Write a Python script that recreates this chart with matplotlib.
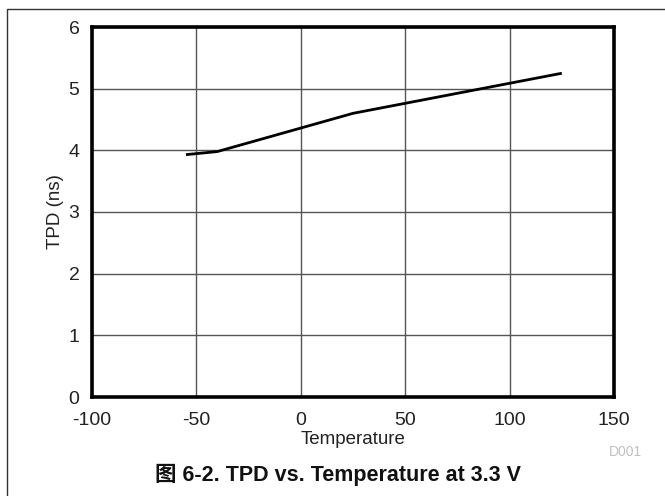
import matplotlib
matplotlib.use("Agg")
import matplotlib.pyplot as plt
from matplotlib.patches import Rectangle

# Daten
temperature = [-55, -40, 25, 125]
tpd_ns = [3.93, 3.98, 4.60, 5.25]

x_ticks = [-100, -50, 0, 50, 100, 150]
y_ticks = [0, 1, 2, 3, 4, 5, 6]

plt.rcParams['font.family'] = ['Liberation Sans', 'Noto Sans CJK SC', 'DejaVu Sans']
plt.rcParams['axes.unicode_minus'] = False

W, H = 665, 496
fig = plt.figure(figsize=(W / 100, H / 100), dpi=100)

# Achsenbereich in Pixel: links 92, rechts 614, oben 27, unten 397
ax = fig.add_axes([92 / W, 1 - 397 / H, (614 - 92) / W, (397 - 27) / H])

ax.plot(temperature, tpd_ns, color='black', linewidth=2.0, solid_capstyle='butt')

ax.set_xlim(-100, 150)
ax.set_ylim(0, 6)
ax.set_xticks(x_ticks)
ax.set_yticks(y_ticks)
ax.grid(True, color='#555555', linewidth=1.0)
ax.set_axisbelow(True)
ax.tick_params(axis='x', length=0, labelsize=14, labelcolor='#222222', pad=11)
ax.tick_params(axis='y', length=0, labelsize=14, labelcolor='#222222', pad=9)
for s in ax.spines.values():
    s.set_linewidth(2.6)
    s.set_color('black')

ax.set_xlabel("Temperature", fontsize=13.5, color='#222222', labelpad=1)
ax.set_ylabel("TPD (ns)", fontsize=13.5, color='#222222', labelpad=3)

# Rahmen um die ganze Abbildung
fig.patches.append(Rectangle((7 / W, -0.1), 1.2, 1 - 9 / H + 0.1, transform=fig.transFigure,
                             fill=False, edgecolor='#333333', linewidth=1.0))

fig.text(625 / W, 1 - 452 / H, "D001", fontsize=10, color='#c0c0c0', ha='center', va='center')
fig.text(338 / W, 1 - 475 / H, "图 6-2. TPD vs. Temperature at 3.3 V", fontsize=15.5,
         fontweight='bold', color='#111111', ha='center', va='center')

fig.savefig("out.png", dpi=100)
